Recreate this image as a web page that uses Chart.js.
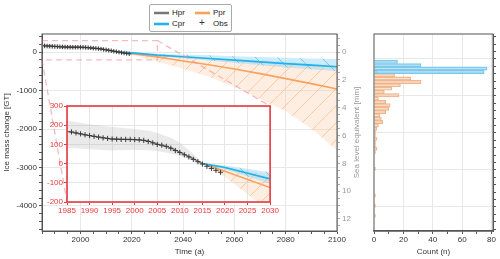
<!DOCTYPE html>
<html>
<head>
<meta charset="utf-8">
<script src="https://cdn.jsdelivr.net/npm/chart.js@4.4.1/dist/chart.umd.min.js"></script>
<style>
  body { margin: 0; background: #fff; font-family: "Liberation Sans", Arial, sans-serif; }
  #wrap { position: relative; width: 500px; height: 259px; overflow: hidden; }
  canvas { position: absolute; }
  #main { left: 0; top: 0; }
  #hist { left: 365px; top: 0; }
  #inset { left: 40px; top: 100px; }
  #legend { position: absolute; left: 149px; top: 4px; width: 81px; height: 26px; border: 1px solid #aaa; border-radius: 2px; background: #fff; font-size: 8px; color: #222; }
  .item { position: absolute; height: 10px; line-height: 10px; color: #222; }
  .sw { position: absolute; left: 0; top: 3px; width: 15px; height: 4px; }
  .sw i { position: absolute; left: 0; right: 0; top: 1px; height: 1.5px; }
  .lbl { position: absolute; left: 18px; top: 0; color: #222; }
</style>
</head>
<body>
<div id="wrap">
  <canvas id="main" width="365" height="259"></canvas>
  <canvas id="hist" width="135" height="259"></canvas>
  <canvas id="inset" width="240" height="118"></canvas>
  <div id="legend">
    <div class="item" style="left:4px;top:3px"><span class="sw" style="background:#ddd"><i style="background:#777"></i></span><span class="lbl">Hpr</span></div>
    <div class="item" style="left:45px;top:3px"><span class="sw" style="background:#fde0c8"><i style="background:#f8a25e"></i></span><span class="lbl">Ppr</span></div>
    <div class="item" style="left:4px;top:14px"><span class="sw" style="background:#c4e9f8"><i style="background:#1fb2ee"></i></span><span class="lbl">Cpr</span></div>
    <div class="item" style="left:45px;top:14px"><span style="position:absolute;left:4px;top:-1px;font-size:10px;color:#333">+</span><span class="lbl">Obs</span></div>
  </div>
</div>
<script>
// observed ice mass change (GT), yearly
const obsYears = [1986, 1987, 1988, 1989, 1990, 1991, 1992, 1993, 1994, 1995, 1996, 1997, 1998, 1999, 2000, 2001, 2002,
  2003, 2004, 2005, 2006, 2007, 2008, 2009, 2010, 2011, 2012, 2013, 2014, 2015, 2016, 2017, 2018, 2019];
const obsValues = [165, 160, 155, 150, 146, 142, 138, 134, 131, 128, 127, 126, 126, 126, 125, 124, 121,
  115, 108, 100, 96, 90, 80, 68, 58, 46, 35, 22, 10, -2, -14, -25, -35, -45];

// historical projection (hindcast) with its range
const hprYears = [1985, 1990, 1995, 2000, 2003, 2005, 2008, 2010, 2013, 2015];
const hprValues = [168, 146, 128, 125, 118, 102, 82, 60, 25, 0];
const hprUpper = [225, 205, 190, 180, 172, 160, 135, 110, 50, 5];
const hprLower = [82, 75, 68, 72, 70, 65, 52, 40, 15, -5];

// future projections
const projYears = [2015, 2020, 2030, 2040, 2050, 2060, 2070, 2080, 2090, 2100];
const cprValues = [0, -20, -80, -120, -165, -210, -255, -300, -340, -380];
const cprUpper = [0, -10, -45, -60, -85, -110, -130, -150, -165, -180];
const cprLower = [0, -30, -105, -160, -220, -280, -340, -400, -445, -490];
const pprValues = [0, -40, -125, -230, -330, -440, -560, -690, -820, -960];
const pprUpper = [0, -15, -60, -100, -140, -180, -220, -260, -300, -340];
const pprLower = [0, -70, -250, -430, -640, -900, -1220, -1540, -1990, -2550];

// histogram of 2100 sea level contribution (mm)
const cprBins = [0.5, 0.75, 1.0, 1.25];
const cprCounts = [16, 32, 77, 75];
const pprBins = [1.25, 1.5, 1.75, 2.0, 2.25, 2.5, 2.75, 3.0, 3.25, 3.5, 3.75, 4.0, 4.25, 4.5, 4.75, 5.0,
  5.25, 5.5, 5.75, 6.0, 6.25, 6.5, 6.75, 7.0, 7.25, 8.5, 10.5, 11.25, 12.0];
const pprCounts = [2, 14, 25, 32, 18, 12, 7, 17, 3, 8, 11, 10, 8, 4, 5, 6,
  3, 2, 1, 1, 2, 1, 1, 2, 1, 1, 1, 1, 1];

const GT_PER_MM = 361.5;
const yRange = [-4650, 470];
const xRange = [1985, 2100];
const insetX = [1985, 2030];
const insetY = [-200, 300];

Chart.defaults.font.family = '"Liberation Sans", Arial, sans-serif';
Chart.defaults.font.size = 8;
Chart.defaults.color = '#333';

const range = (a, b, step) => { const out = []; for (let v = a; v <= b + 1e-9; v += step) out.push({ value: Math.round(v * 100) / 100 }); return out; };
const pts = (xs, ys) => xs.map((x, i) => ({ x: x, y: ys[i] }));
const clear = 'rgba(0,0,0,0)';

// hatched fills
function hatch(fill, stroke, size, forward) {
  const c = document.createElement('canvas');
  c.width = size; c.height = size;
  const g = c.getContext('2d');
  g.fillStyle = fill;
  g.fillRect(0, 0, size, size);
  g.strokeStyle = stroke;
  g.lineWidth = 0.9;
  g.beginPath();
  if (forward) {
    g.moveTo(0, size); g.lineTo(size, 0);
    g.moveTo(-2, 2); g.lineTo(2, -2);
    g.moveTo(size - 2, size + 2); g.lineTo(size + 2, size - 2);
  } else {
    g.moveTo(0, 0); g.lineTo(size, size);
    g.moveTo(size - 2, -2); g.lineTo(size + 2, 2);
    g.moveTo(-2, size - 2); g.lineTo(2, size + 2);
  }
  g.stroke();
  return document.getElementById('main').getContext('2d').createPattern(c, 'repeat');
}
const blueHatch = hatch('rgba(130,210,242,0.42)', 'rgba(60,178,228,0.65)', 22, false);
const orangeHatch = hatch('rgba(252,200,160,0.3)', 'rgba(248,172,112,0.6)', 17, true);

function makeDatasets(markerSize) {
  return [
    { data: pts(obsYears, obsValues), showLine: false, pointStyle: 'cross', pointRadius: markerSize,
      pointBorderColor: '#3a3a3a', pointBorderWidth: 1, borderColor: clear },
    { data: pts(hprYears, hprValues), borderColor: '#777', borderWidth: 1.3, pointRadius: 0 },
    { data: pts(projYears, cprValues), borderColor: '#1fb2ee', borderWidth: 1.6, pointRadius: 0 },
    { data: pts(projYears, pprValues), borderColor: '#f8a25e', borderWidth: 1.6, pointRadius: 0 },
    { data: pts(hprYears, hprUpper), borderColor: clear, borderWidth: 0, pointRadius: 0 },
    { data: pts(hprYears, hprLower), borderColor: clear, borderWidth: 0, pointRadius: 0, fill: '-1', backgroundColor: 'rgba(170,170,170,0.25)' },
    { data: pts(projYears, cprUpper), borderColor: clear, borderWidth: 0, pointRadius: 0 },
    { data: pts(projYears, cprLower), borderColor: clear, borderWidth: 0, pointRadius: 0, fill: '-1', backgroundColor: blueHatch },
    { data: pts(projYears, pprUpper), borderColor: clear, borderWidth: 0, pointRadius: 0 },
    { data: pts(projYears, pprLower), borderColor: clear, borderWidth: 0, pointRadius: 0, fill: '-1', backgroundColor: orangeHatch }
  ];
}

// box round the plot area
const frame = {
  id: 'frame',
  afterDraw(chart, args, opts) {
    const a = chart.chartArea, ctx = chart.ctx;
    ctx.save();
    ctx.strokeStyle = opts.color;
    ctx.lineWidth = opts.width;
    ctx.strokeRect(a.left, a.top, a.right - a.left, a.bottom - a.top);
    ctx.restore();
  }
};
const whiteBack = {
  id: 'whiteBack',
  beforeDraw(chart) {
    const a = chart.chartArea, ctx = chart.ctx;
    ctx.save();
    ctx.fillStyle = '#fff';
    ctx.fillRect(a.left, a.top, a.right - a.left, a.bottom - a.top);
    ctx.restore();
  }
};
// right axis title, read bottom to top like the left one
const rightTitle = {
  id: 'rightTitle',
  afterDraw(chart) {
    const a = chart.chartArea, ctx = chart.ctx;
    ctx.save();
    ctx.translate(a.right + 20, (a.top + a.bottom) / 2);
    ctx.rotate(-Math.PI / 2);
    ctx.fillStyle = '#999';
    ctx.font = '8px "Liberation Sans", Arial, sans-serif';
    ctx.textAlign = 'center';
    ctx.textBaseline = 'middle';
    ctx.fillText('Sea level equivalent [mm]', 0, 0);
    ctx.restore();
  }
};

// inset, zoomed on 1985-2030
const insetCanvas = document.getElementById('inset');
const insetChart = new Chart(insetCanvas, {
  type: 'line',
  data: { datasets: makeDatasets(2.6) },
  plugins: [whiteBack, frame],
  options: {
    responsive: false,
    animation: false,
    layout: { padding: { top: 6, right: 8, left: 0, bottom: 0 } },
    plugins: { legend: { display: false }, tooltip: { enabled: false }, frame: { color: '#e8383d', width: 1.6 } },
    scales: {
      x: {
        type: 'linear', min: insetX[0], max: insetX[1],
        afterBuildTicks: s => { s.ticks = range(1985, 2030, 5); },
        afterFit: s => { s.height = 16; },
        ticks: { color: '#e8383d', padding: 1, autoSkip: false, maxRotation: 0, callback: v => String(v) },
        grid: { color: '#e6e6e6', tickColor: '#e8383d', tickLength: 3 },
        border: { display: false }
      },
      y: {
        type: 'linear', min: insetY[0], max: insetY[1],
        afterBuildTicks: s => { s.ticks = range(-200, 300, 100); },
        afterFit: s => { s.width = 27; },
        ticks: { color: '#e8383d', padding: 1, callback: v => String(v) },
        grid: { color: '#e6e6e6', tickColor: '#e8383d', tickLength: 3 },
        border: { display: false }
      }
    }
  }
});

// dashed zoom box and its connectors
const zoomBox = {
  id: 'zoomBox',
  afterDatasetsDraw(chart) {
    const ctx = chart.ctx, x = chart.scales.x, y = chart.scales.y;
    const l = x.getPixelForValue(insetX[0]), r = x.getPixelForValue(insetX[1]);
    const t = y.getPixelForValue(insetY[1]), b = y.getPixelForValue(insetY[0]);
    const a = insetChart.chartArea;
    const ox = insetCanvas.offsetLeft, oy = insetCanvas.offsetTop;
    ctx.save();
    ctx.strokeStyle = 'rgba(242,140,150,0.6)';
    ctx.lineWidth = 1.3;
    ctx.setLineDash([6, 4]);
    ctx.strokeRect(l, t, r - l, b - t);
    ctx.beginPath();
    ctx.moveTo(l, b); ctx.lineTo(ox + a.left, oy + a.bottom);
    ctx.moveTo(r, t); ctx.lineTo(ox + a.right, oy + a.top);
    ctx.stroke();
    ctx.restore();
  }
};

new Chart(document.getElementById('main'), {
  type: 'line',
  data: { datasets: makeDatasets(2.2) },
  plugins: [zoomBox, frame, rightTitle],
  options: {
    responsive: false,
    animation: false,
    layout: { padding: { top: 34, left: 2, right: 0, bottom: 0 } },
    plugins: { legend: { display: false }, tooltip: { enabled: false }, frame: { color: '#555', width: 1 } },
    scales: {
      x: {
        type: 'linear', min: xRange[0], max: xRange[1],
        afterBuildTicks: s => { s.ticks = range(1985, 2100, 5); },
        afterFit: s => { s.height = 28; },
        ticks: { padding: 1, autoSkip: false, maxRotation: 0, callback: v => (v % 20 === 0 ? String(v) : '') },
        grid: { color: c => (c.tick && c.tick.value % 20 === 0 ? '#e8e8e8' : clear), tickColor: '#555', tickLength: 3 },
        border: { color: '#555' },
        title: { display: true, text: 'Time (a)', padding: { top: 0, bottom: 2 } }
      },
      y: {
        type: 'linear', min: yRange[0], max: yRange[1],
        afterBuildTicks: s => { s.ticks = range(-4600, 400, 200); },
        afterFit: s => { s.width = 40; },
        ticks: { padding: 2, autoSkip: false, callback: v => (v % 1000 === 0 ? String(v) : '') },
        grid: { color: c => (c.tick && c.tick.value % 1000 === 0 ? '#e8e8e8' : clear), tickColor: '#555', tickLength: 3 },
        border: { color: '#555' },
        title: { display: true, text: 'Ice mass change [GT]', padding: { top: 0, bottom: 0 } }
      },
      y2: {
        type: 'linear', position: 'right', reverse: true,
        min: -yRange[1] / GT_PER_MM, max: -yRange[0] / GT_PER_MM,
        afterBuildTicks: s => { s.ticks = range(-1, 12.5, 0.5); },
        afterFit: s => { s.width = 28; },
        ticks: { color: '#999', padding: 2, autoSkip: false, callback: v => (v % 2 === 0 ? String(v) : '') },
        grid: { drawOnChartArea: false, tickColor: '#aaa', tickLength: 3 },
        border: { color: '#bbb' }
      }
    }
  }
});

// histogram of the projections in 2100
new Chart(document.getElementById('hist'), {
  type: 'bar',
  data: {
    datasets: [
      { data: cprBins.map((m, i) => ({ x: cprCounts[i], y: -m * GT_PER_MM })), backgroundColor: 'rgba(140,210,240,0.6)', borderColor: '#7cc6e8',
        borderWidth: 0.8, grouped: false, barPercentage: 1, categoryPercentage: 1 },
      { data: pprBins.map((m, i) => ({ x: pprCounts[i], y: -m * GT_PER_MM })), backgroundColor: 'rgba(250,205,170,0.55)', borderColor: '#eeb28a',
        borderWidth: 0.8, grouped: false, barPercentage: 1, categoryPercentage: 1 }
    ]
  },
  plugins: [frame],
  options: {
    responsive: false,
    animation: false,
    indexAxis: 'y',
    layout: { padding: { top: 34, left: 9, right: 0, bottom: 0 } },
    plugins: { legend: { display: false }, tooltip: { enabled: false }, frame: { color: '#555', width: 1 } },
    scales: {
      x: {
        type: 'linear', min: 0, max: 81,
        afterBuildTicks: s => { s.ticks = range(0, 80, 10); },
        afterFit: s => { s.height = 28; },
        ticks: { padding: 1, autoSkip: false, maxRotation: 0, callback: v => (v % 20 === 0 ? String(v) : '') },
        grid: { color: c => (c.tick && c.tick.value % 20 === 0 && c.tick.value > 0 ? '#e8e8e8' : clear), tickColor: '#555', tickLength: 3 },
        border: { color: '#555', width: 1.5 },
        title: { display: true, text: 'Count (n)', padding: { top: 0, bottom: 2 } }
      },
      y: {
        type: 'linear', position: 'right', min: yRange[0], max: yRange[1],
        afterBuildTicks: s => { s.ticks = range(-4600, 400, 200); },
        afterFit: s => { s.width = 7; },
        ticks: { display: false },
        grid: { color: c => (c.tick && c.tick.value % 1000 === 0 ? '#e8e8e8' : clear), tickColor: '#555', tickLength: 3 },
        border: { color: '#555' }
      }
    }
  }
});
</script>
</body>
</html>
